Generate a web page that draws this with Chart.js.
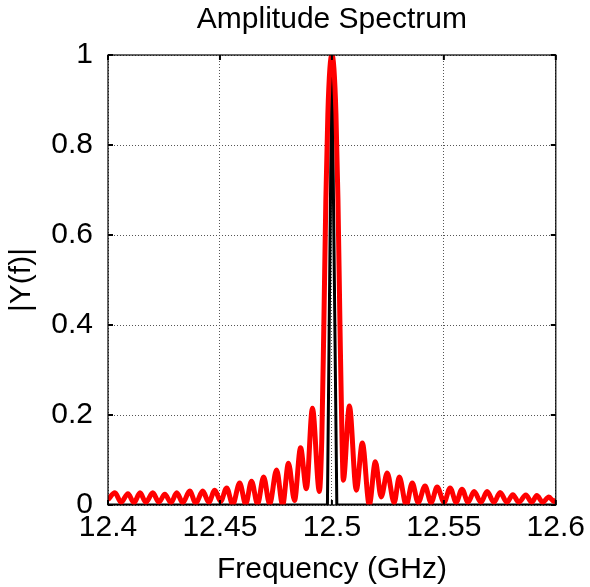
<!DOCTYPE html>
<html><head><meta charset="utf-8">
<script src="https://cdn.jsdelivr.net/npm/chart.js@4.4.0/dist/chart.umd.min.js"></script>
<style>html,body{margin:0;padding:0;background:#fff;} #wrap{width:590px;height:587px;position:relative;}</style>
</head><body><div id="wrap"><canvas id="c"></canvas></div>
<script>
const chartTitle = 'Amplitude Spectrum';
const xAxisTitle = 'Frequency (GHz)';
const yAxisTitle = '|Y(f)|';
const xTickValues = [12.4, 12.45, 12.5, 12.55, 12.6];
const xTickLabels = ['12.4', '12.45', '12.5', '12.55', '12.6'];
const yTickValues = [0, 0.2, 0.4, 0.6, 0.8, 1];
const yTickLabels = ['0', '0.2', '0.4', '0.6', '0.8', '1'];

// red trace: left sidelobes
const redLeftFreq = [12.4000, 12.4031, 12.4058, 12.4089, 12.4116, 12.4143, 12.4169, 12.4200, 12.4227, 12.4254,
  12.4281, 12.4307, 12.4334, 12.4365, 12.4392, 12.4423, 12.4450, 12.4477, 12.4503, 12.4530,
  12.4557, 12.4588, 12.4615, 12.4641, 12.4668, 12.4695, 12.4722, 12.4753, 12.4780, 12.4806,
  12.4833, 12.4860, 12.4886, 12.4913, 12.4944];
const redLeftAmp = [0.012, 0.027, 0.006, 0.025, 0.005, 0.027, 0.006, 0.027, 0.006, 0.024,
  0.005, 0.027, 0.005, 0.031, 0.004, 0.031, 0.006, 0.033, 0.008, 0.038,
  0.001, 0.049, 0.002, 0.053, 0.002, 0.062, 0.002, 0.078, 0.000, 0.093,
  0.010, 0.127, 0.036, 0.215, 0.030];
// red trace: main lobe
const redMainFreq = [12.4955, 12.4964, 12.4973, 12.4982, 12.4991, 12.5000, 12.5009, 12.5018, 12.5027, 12.5036, 12.5045];
const redMainAmp = [0.15, 0.40, 0.68, 0.87, 0.97, 1.00, 0.97, 0.87, 0.68, 0.40, 0.15];
// red trace: right sidelobes
const redRightFreq = [12.5051, 12.5078, 12.5109, 12.5136, 12.5167, 12.5194, 12.5220, 12.5247, 12.5278, 12.5301,
  12.5332, 12.5359, 12.5385, 12.5416, 12.5443, 12.5470, 12.5501, 12.5528, 12.5555, 12.5581,
  12.5608, 12.5635, 12.5666, 12.5693, 12.5724, 12.5751, 12.5782, 12.5808, 12.5835, 12.5866,
  12.5893, 12.5915, 12.5942, 12.5969, 12.5991, 12.6000];
const redRightAmp = [0.055, 0.220, 0.033, 0.138, 0.000, 0.096, 0.018, 0.071, 0.005, 0.062,
  0.000, 0.049, 0.005, 0.042, 0.005, 0.040, 0.006, 0.038, 0.006, 0.035,
  0.006, 0.030, 0.006, 0.030, 0.006, 0.028, 0.006, 0.023, 0.006, 0.022,
  0.006, 0.021, 0.006, 0.018, 0.008, 0.012];

// black trace
const blackFreq = [12.4, 12.498, 12.5, 12.5022, 12.6];
const blackAmp = [0, 0, 1, 0, 0];

const FONT = "'Liberation Sans', Arial, Helvetica, sans-serif";
const toPts = (xs, ys) => xs.map((x, i) => ({x: x, y: ys[i]}));
const redPts = toPts(redLeftFreq.concat(redMainFreq, redRightFreq), redLeftAmp.concat(redMainAmp, redRightAmp));
const blackPts = toPts(blackFreq, blackAmp);

const whiteBg = {
  id: 'whiteBg',
  beforeDraw(chart) {
    const ctx = chart.ctx;
    ctx.save(); ctx.fillStyle = '#fff'; ctx.fillRect(0, 0, chart.width, chart.height); ctx.restore();
  }
};
const frameTicks = {
  id: 'frameTicks',
  afterDraw(chart) {
    const {ctx, chartArea: {left, right, top, bottom}, scales: {x, y}} = chart;
    ctx.save();
    ctx.strokeStyle = '#000';
    ctx.lineWidth = 1.2;
    ctx.strokeRect(left, top, right - left, bottom - top);
    ctx.lineWidth = 2;
    const L = 5;
    ctx.beginPath();
    xTickValues.forEach(v => {
      const px = x.getPixelForValue(v);
      ctx.moveTo(px, bottom); ctx.lineTo(px, bottom - L);
      ctx.moveTo(px, top); ctx.lineTo(px, top + L);
    });
    yTickValues.forEach(v => {
      const py = y.getPixelForValue(v);
      ctx.moveTo(left, py); ctx.lineTo(left + L, py);
      ctx.moveTo(right, py); ctx.lineTo(right - L, py);
    });
    ctx.stroke();
    ctx.restore();
  }
};

new Chart(document.getElementById('c'), {
  type: 'line',
  data: {
    datasets: [
      {data: redPts, borderColor: '#ff0000', borderWidth: 5, pointRadius: 0, cubicInterpolationMode: 'monotone', fill: false},
      {data: blackPts, borderColor: '#000000', borderWidth: 3, pointRadius: 0, tension: 0, fill: false}
    ]
  },
  options: {
    responsive: true,
    maintainAspectRatio: false,
    animation: false,
    events: [],
    layout: {padding: {left: 0, right: 33, top: 0, bottom: 0}},
    plugins: {
      legend: {display: false},
      tooltip: {enabled: false},
      title: {
        display: true, text: chartTitle, fullSize: false, color: '#000',
        font: {family: FONT, size: 30, weight: 'normal', lineHeight: 1},
        padding: {top: 5, bottom: 20}
      }
    },
    scales: {
      x: {
        type: 'linear', min: 12.4, max: 12.6,
        afterBuildTicks: s => { s.ticks = xTickValues.map(v => ({value: v})); },
        ticks: {
          callback: v => xTickLabels[xTickValues.indexOf(v)],
          font: {family: FONT, size: 30}, color: '#000', padding: 5, maxRotation: 0, autoSkip: false
        },
        grid: {color: '#555', lineWidth: 1, drawTicks: false},
        border: {display: false, dash: [1, 2]},
        title: {display: true, text: xAxisTitle, color: '#000', font: {family: FONT, size: 30, lineHeight: 1}, padding: {top: 0, bottom: 2}},
        afterFit: s => { s.height = 82; }
      },
      y: {
        type: 'linear', min: 0, max: 1,
        afterBuildTicks: s => { s.ticks = yTickValues.map(v => ({value: v})); },
        ticks: {
          callback: v => yTickLabels[yTickValues.indexOf(v)],
          font: {family: FONT, size: 30}, color: '#000', padding: 15
        },
        grid: {color: '#555', lineWidth: 1, drawTicks: false},
        border: {display: false, dash: [1, 2]},
        title: {display: true, text: yAxisTitle, color: '#000', font: {family: FONT, size: 30, lineHeight: 1}, padding: {top: 7, bottom: 0}},
        afterFit: s => { s.width = 108; }
      }
    }
  },
  plugins: [whiteBg, frameTicks]
});
</script>
</body></html>
